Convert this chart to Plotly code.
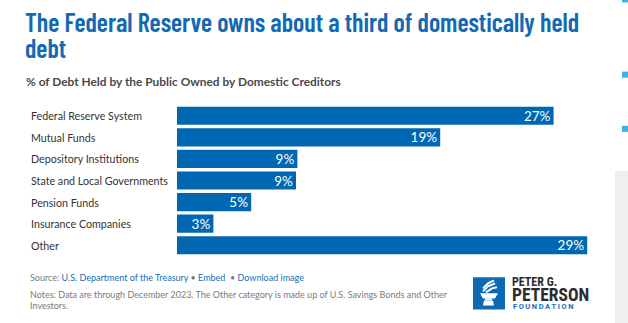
import plotly.graph_objects as go

# Share of debt held by the public, owned by domestic creditors (Dec 2023)
categories = [
    "Federal Reserve System",
    "Mutual Funds",
    "Depository Institutions",
    "State and Local Governments",
    "Pension Funds",
    "Insurance Companies",
    "Other",
]
shares = [26.9, 18.8, 8.6, 8.5, 5.3, 2.6, 29.3]

W, H = 628, 323
L, R = 177, 597          # plot area left/right in pixels
T, B = 105.25, 255.75    # plot area top/bottom in pixels
x_max = 30.0

BLUE = "#0068b2"
TITLE_BLUE = "#1369b3"
LINK_BLUE = "#1a6bb8"
GRAY = "#7a7a7a"
COND = "Barlow Condensed, Roboto Condensed, sans-serif"


def px(x):
    return (x - L) / (R - L)


def py(y):
    return (B - y) / (B - T)


fig = go.Figure(
    go.Bar(
        x=shares,
        y=categories,
        orientation="h",
        marker=dict(color=BLUE, line=dict(width=0)),
        texttemplate="%{x:.0f}%",
        textposition="inside",
        insidetextanchor="end",
        constraintext="none",
        textfont=dict(family="Lato", size=13.5, color="white"),
        hoverinfo="skip",
    )
)

annotations = []


def note(x, y, text, size, color, family="Lato", weight="normal"):
    annotations.append(dict(
        xref="paper", yref="paper", x=px(x), y=py(y), text=text,
        xanchor="left", yanchor="middle", showarrow=False,
        font=dict(family=family, size=size, color=color, weight=weight),
    ))


# Title, subtitle
note(23, 22, "The Federal Reserve owns about a third of domestically held", 26,
     TITLE_BLUE, family=COND, weight=600)
note(23, 48, "debt", 26, TITLE_BLUE, family=COND, weight=600)
note(24, 82, "% of Debt Held by the Public Owned by Domestic Creditors", 11.9,
     "#4a4a4a", weight="bold")

# Category labels, left aligned
for i, c in enumerate(categories):
    yc = T + (i + 0.5) * (B - T) / len(categories)
    note(29, yc, c, 10.7, "#333333")

# Footer
note(28, 277,
     f"Source: <span style='color:{LINK_BLUE}'>U.S. Department of the Treasury</span>"
     f" • <span style='color:{LINK_BLUE}'>Embed</span>  • "
     f"<span style='color:{LINK_BLUE}'>Download image</span>",
     9, GRAY)
note(28, 294, "Notes: Data are through December 2023. The Other category is made up of "
     "U.S. Savings Bonds and Other", 9, GRAY)
note(28, 305, "Investors.", 9, GRAY)

# Foundation wordmark
note(510, 281.5, "PETER G.", 12, "#2b2b2b", family="Roboto Condensed", weight="bold")
note(510, 295, "PETERSON", 17.5, "#2b2b2b", family="Roboto Condensed", weight="bold")
note(511, 306.5, "F\u2009O\u2009U\u2009N\u2009D\u2009A\u2009T\u2009I\u2009O\u2009N", 7.5,
     "#1a6db5", family="Roboto", weight="bold")

shapes = []


def rect(x0, y0, x1, y1, color):
    shapes.append(dict(type="rect", xref="paper", yref="paper",
                       x0=px(x0), x1=px(x1), y0=py(y1), y1=py(y0),
                       fillcolor=color, line=dict(width=0), layer="above"))


def path(points, color, fill=True, width=2):
    d = "M " + " L ".join(f"{px(a):.5f},{py(b):.5f}" for a, b in points)
    if fill:
        d += " Z"
        shapes.append(dict(type="path", xref="paper", yref="paper", path=d,
                           fillcolor=color, line=dict(width=0), layer="above"))
    else:
        shapes.append(dict(type="path", xref="paper", yref="paper", path=d,
                           line=dict(color=color, width=width), layer="above"))


# Logo square with torch
rect(473, 277, 505, 309, "#0e69b4")
path([(480, 293), (498, 293), (495, 298), (483, 298)], "white")
rect(485, 298, 492, 300, "white")
path([(484, 300), (493, 300), (494, 305), (483, 305)], "white")
path([(483, 291), (488, 286), (495, 283)], "white", fill=False, width=2)
path([(483, 288), (488, 283), (494, 280)], "white", fill=False, width=2)
path([(486, 292), (492, 288), (497, 287)], "white", fill=False, width=2)

# Page side decorations
rect(622, 0, 628, 3, "#3bb2e3")
rect(622, 72, 628, 78, "#3bb2e3")
rect(622, 126, 628, 132, "#3bb2e3")
rect(615, 171, 628, 323, "#efefef")

fig.update_layout(
    width=W, height=H,
    margin=dict(l=L, r=W - R, t=T, b=H - B),
    paper_bgcolor="white", plot_bgcolor="white",
    showlegend=False,
    bargap=0.16,
    xaxis=dict(range=[0, x_max], visible=False, fixedrange=True),
    yaxis=dict(autorange="reversed", visible=False, fixedrange=True),
    annotations=annotations,
    shapes=shapes,
)

fig.write_html("out.html", config={"displayModeBar": False})
